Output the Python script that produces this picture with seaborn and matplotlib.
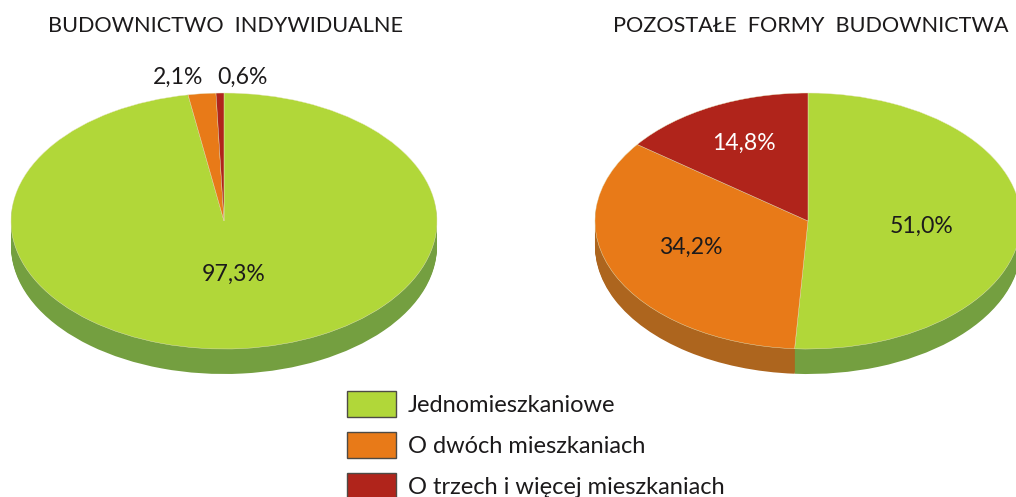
import numpy as np
import seaborn as sns
import matplotlib.pyplot as plt
from matplotlib.patches import Patch

sns.set_theme(style="white")
plt.rcParams['font.family'] = ['Lato', 'DejaVu Sans']

W, H = 1016, 497

categories = ['Jednomieszkaniowe', 'O dwóch mieszkaniach', 'O trzech i więcej mieszkaniach']
titles = ['BUDOWNICTWO  INDYWIDUALNE', 'POZOSTAŁE  FORMY  BUDOWNICTWA']
indywidualne = [97.3, 2.1, 0.6]
pozostale = [51.0, 34.2, 14.8]
top_colors = ['#b1d739', '#e87a18', '#b0241b']
side_colors = ['#749f40', '#ad651e', '#8a2a1c']
text_color = '#1c1a1b'

RX, RY, DEPTH = 213, 128, 25
FS = 16.6
LEGEND_FS = 17


def label(x, y, s, color=text_color, size=FS):
    fig.text(x / W, 1 - y / H, s, ha='center', va='center', color=color, fontsize=size)


def pie3d(cx, cy, values):
    ax = fig.add_axes([(cx - RX) / W, 1 - (cy + RY + DEPTH) / H, 2 * RX / W, (2 * RY + DEPTH) / H])
    # side wall: the same pie stacked downwards, pixel by pixel
    for shift in np.arange(DEPTH, 0, -1):
        ax.pie(values, colors=side_colors, startangle=90, counterclock=False,
               center=(0, -shift / RY), wedgeprops=dict(linewidth=0))
    ax.pie(values, colors=top_colors, startangle=90, counterclock=False,
           wedgeprops=dict(linewidth=0.3, edgecolor='#e8e6c0'))
    ax.set_aspect('auto')
    ax.set_xlim(-1, 1)
    ax.set_ylim(-1 - DEPTH / RY, 1)
    ax.patch.set_alpha(0)
    return ax


fig = plt.figure(figsize=(W / 100, H / 100), dpi=100)

pie3d(224, 221, indywidualne)
pie3d(808, 221, pozostale)

label(226, 26, titles[0], size=15.55)
label(811, 26, titles[1], size=15.55)

label(234, 274, '97,3%')
label(178, 77, '2,1%')
label(242, 77, '0,6%')
label(922, 226, '51,0%')
label(691, 247, '34,2%')
label(744, 143, '14,8%', color='white')

handles = [Patch(facecolor=c, edgecolor='#4d4a45', linewidth=1) for c in top_colors]
px = LEGEND_FS * 100 / 72
fig.legend(handles, categories, loc='upper left', bbox_to_anchor=(347 / W, 1 - 391 / H),
           frameon=False, fontsize=LEGEND_FS, labelcolor=text_color,
           handlelength=49 / px, handleheight=31 / px, handletextpad=12 / px,
           labelspacing=15 / px, borderpad=0, borderaxespad=0)

plt.savefig('out.png', dpi=100)
